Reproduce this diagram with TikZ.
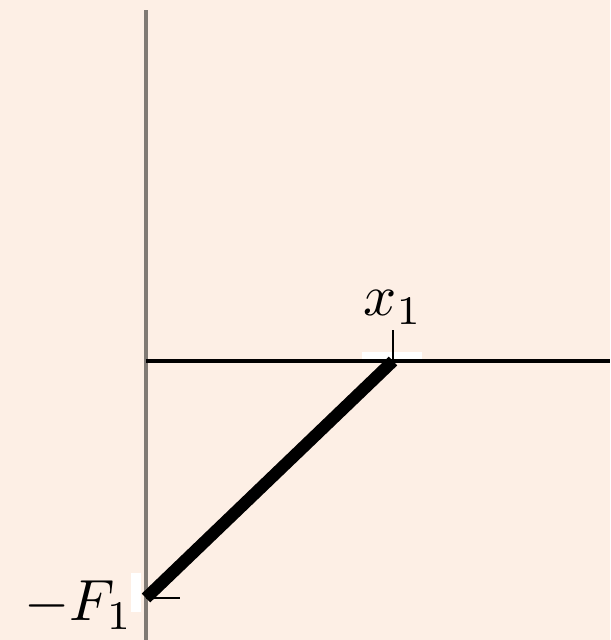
\documentclass[tikz,border=0pt]{standalone}
\usepackage{tikz}
\usetikzlibrary{positioning}
\definecolor{paper}{RGB}{253,239,229}
\definecolor{axisgray}{RGB}{128,122,116}

\begin{document}
\begin{tikzpicture}[x=0.172pt, y=-0.172pt]
  % Define styles
  \tikzstyle{axis} = [line width=0.55pt]
  \tikzstyle{tick} = [line width=0.4pt]
  \tikzstyle{halo} = [fill=white, draw=none]
  \tikzstyle{graph} = [line width=2.1pt]

  % Background
  \fill [paper] (0,0) rectangle (610,640);
  \useasboundingbox (0,0) rectangle (610,640);

  % Place points
  \coordinate (top) at (146,10);
  \coordinate (bottom) at (146,640);
  \coordinate (origin) at (146,361);
  \coordinate (right) at (610,361);
  \coordinate (x1) at (393,361);
  \coordinate (F1) at (146,598);
  \coordinate (x1tick) at (393,330);
  \coordinate (F1tick) at (180,598);

  % White marks behind ticks
  \fill [halo] (362,352) rectangle (422,361);
  \fill [halo] (131,573) rectangle (141,612);

  % Axes
  \draw [axis, axisgray] (top) -- (bottom);
  \draw [axis] (origin) -- (right);
  \draw [tick] (x1) -- (x1tick);
  \draw [tick] (F1) -- (F1tick);

  % Labels
  \node [above=-2.6pt of x1tick] (x1label) {$x_1$};
  \node [anchor=east, inner sep=1pt] at (140,605) (F1label) {$-F_1$};

  % Graph
  \draw [graph] (x1) -- (F1);
\end{tikzpicture}
\end{document}
